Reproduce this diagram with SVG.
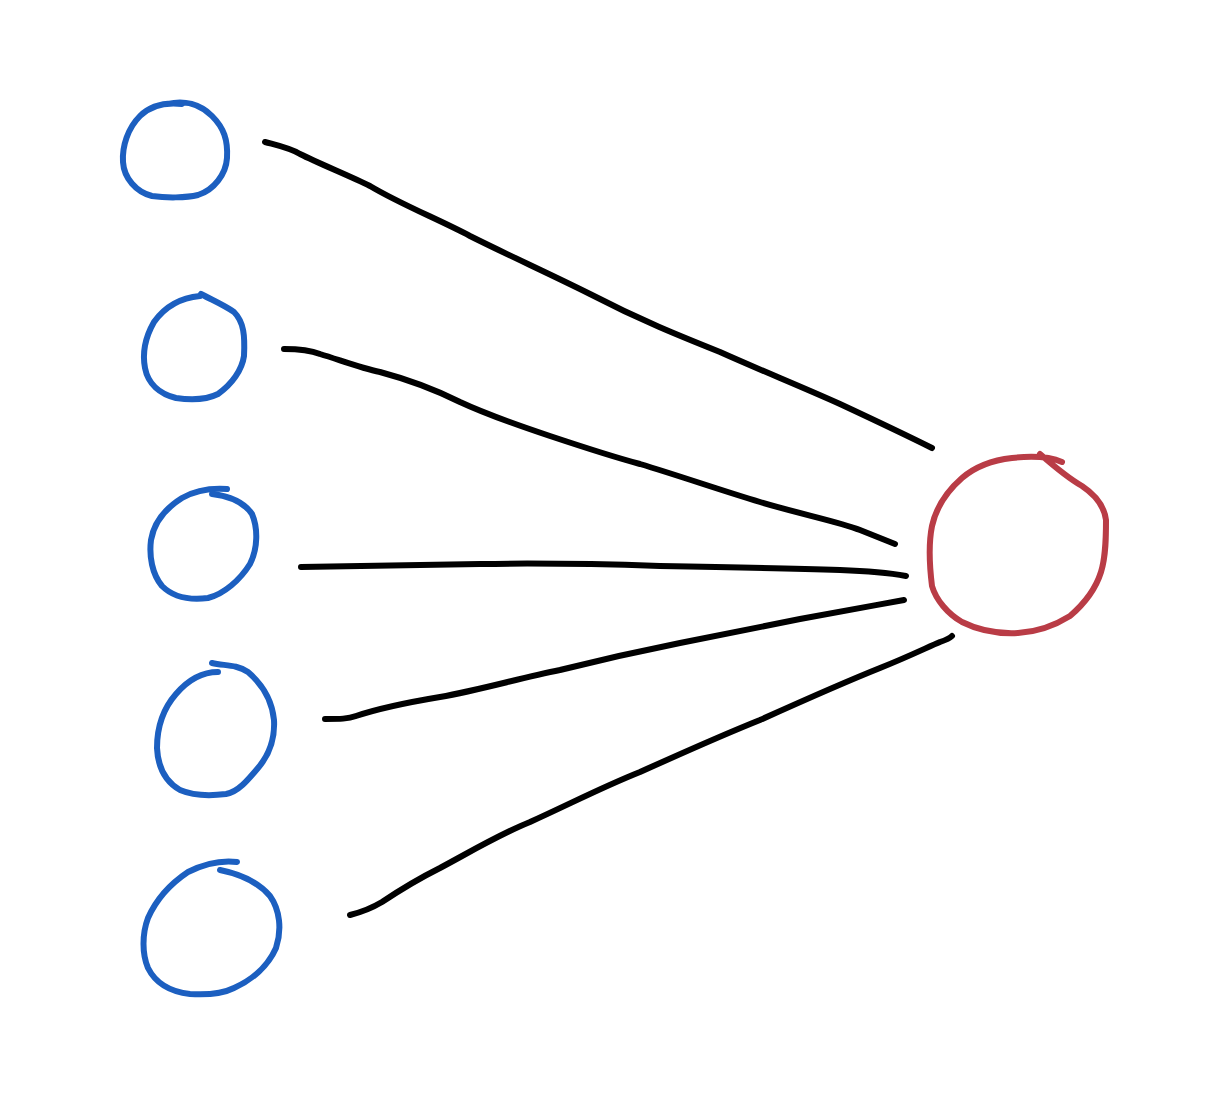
<svg xmlns="http://www.w3.org/2000/svg" width="1225" height="1115" viewBox="0 0 1225 1115">
<style>
.n{fill:none;stroke:#1c5fc0;stroke-width:6;stroke-linecap:round;stroke-linejoin:round}
.o{fill:none;stroke:#b93c46;stroke-width:6;stroke-linecap:round;stroke-linejoin:round}
.c{fill:none;stroke:#000;stroke-width:6;stroke-linecap:round;stroke-linejoin:round}
</style>
<rect width="1225" height="1115" fill="#fff"/>
<g id="in1"><path class="n" d="M168,104 C184,100 200,104 212,116 C224,128 228,140 227,158 C226,174 214,190 198,195 C186,198 166,198 152,196 C136,192 124,178 123,162 C122,146 128,128 140,116 C150,106 164,102 182,104"/></g>
<g id="in2"><path class="n" d="M201,294 C212,300 222,304 234,312 C244,322 245,336 244,356 C242,370 232,384 218,394 C206,400 190,400 176,398 C160,394 148,384 145,368 C142,352 146,336 154,322 C164,308 178,298 200,296"/></g>
<g id="in3"><path class="n" d="M227,489 C212,488 196,490 182,498 C166,508 154,522 151,540 C149,556 152,574 162,586 C174,598 192,600 208,598 C224,594 240,580 250,564 C258,548 258,528 252,514 C244,502 228,496 212,494"/></g>
<g id="in4"><path class="n" d="M212,663 C224,666 236,664 248,672 C262,684 272,700 274,720 C275,738 270,754 258,768 C248,780 238,792 226,794 C210,796 194,796 180,790 C166,782 158,768 157,748 C157,730 162,710 176,694 C188,680 202,672 218,672"/></g>
<g id="in5"><path class="n" d="M237,862 C220,860 204,864 188,872 C170,884 156,900 148,918 C142,934 142,954 148,968 C156,984 172,992 190,994 C206,995 222,994 234,988 C252,980 268,966 276,948 C282,930 280,910 270,896 C258,882 240,874 220,870"/></g>
<g id="out"><path class="o" d="M1062,462 C1048,456 1030,456 1012,458 C994,460 976,466 962,478 C946,492 936,508 932,526 C928,546 930,570 932,586 C936,600 948,614 962,622 C978,630 998,634 1018,633 C1036,632 1054,626 1070,616 C1084,604 1096,588 1101,572 C1106,556 1106,536 1106,520 C1104,504 1094,494 1082,486 C1068,478 1056,468 1040,454"/></g>
<g id="connectors">
<path class="c" d="M265,142 C280,146 290,148 300,154 C320,164 350,176 370,186 C400,204 440,220 470,236 C510,256 550,274 590,294 C640,320 680,336 720,352 C760,370 800,386 840,404 C870,418 900,432 932,448"/>
<path class="c" d="M284,349 C300,349 310,350 320,354 C340,360 360,368 380,372 C410,380 440,392 460,402 C490,416 520,426 550,436 C580,446 610,456 640,464 C680,476 720,490 760,502 C800,514 840,522 860,530 C875,536 885,540 895,544"/>
<path class="c" d="M301,567 C360,566 420,565 480,564 C540,563 600,564 660,566 C720,567 780,568 840,570 C870,571 890,573 906,576"/>
<path class="c" d="M325,719 C340,719 348,719 356,716 C380,708 410,702 440,697 C480,690 520,678 560,670 C600,660 640,651 680,643 C720,635 760,627 800,619 C840,612 870,606 904,600"/>
<path class="c" d="M350,915 C362,912 372,908 382,902 C400,890 420,878 440,868 C470,852 500,834 530,822 C570,804 600,788 640,772 C680,754 720,736 760,720 C800,702 840,684 880,668 C910,656 930,646 940,642 C946,640 950,638 952,636"/>
</g>
</svg>
